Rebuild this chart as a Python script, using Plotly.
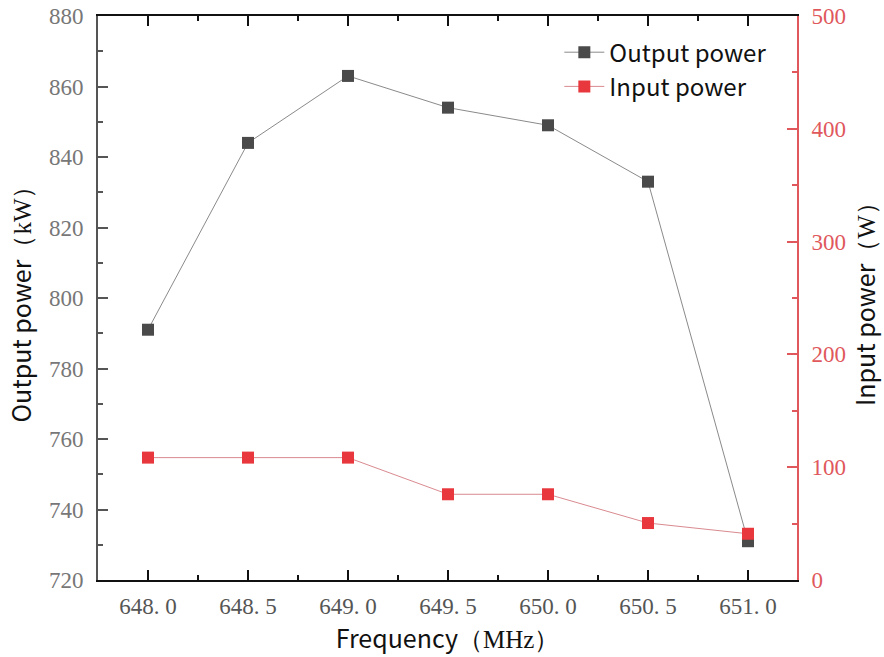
import plotly.graph_objects as go

freq = [648.0, 648.5, 649.0, 649.5, 650.0, 650.5, 651.0]
output_kw = [791, 844, 863, 854, 849, 833, 731]
input_w = [108.5, 108.5, 108.5, 76, 76, 50.5, 41]
x_tickvals = [648.0, 648.5, 649.0, 649.5, 650.0, 650.5, 651.0]
x_ticktext = ["648. 0", "648. 5", "649. 0", "649. 5", "650. 0", "650. 5", "651. 0"]

SANS = "Noto Sans CJK SC, Noto Sans, sans-serif"
SERIF = "Liberation Serif, serif"
RED = "#e8383d"
RED_AX = "#e0585c"

fig = go.Figure()
fig.add_trace(go.Scatter(
    x=freq, y=output_kw, name="Output power", mode="lines+markers",
    line=dict(color="#8a8a8a", width=1),
    marker=dict(symbol="square", size=12, color="#4a4a4a"),
    yaxis="y"))
fig.add_trace(go.Scatter(
    x=freq, y=input_w, name="Input power", mode="lines+markers",
    line=dict(color="#d98a90", width=1),
    marker=dict(symbol="square", size=12, color=RED),
    yaxis="y2"))

fig.update_layout(
    width=884, height=657,
    margin=dict(l=98, r=87, t=16, b=77),
    paper_bgcolor="white", plot_bgcolor="white",
    showlegend=True,
    legend=dict(x=0.66, y=0.975, xanchor="left", yanchor="top",
                font=dict(family=SANS, size=24, color="#111"),
                bgcolor="rgba(0,0,0,0)", tracegroupgap=0, itemwidth=40),
    xaxis=dict(
        range=[647.75, 651.245], tickvals=x_tickvals, ticktext=x_ticktext,
        showgrid=False, zeroline=False, automargin=False,
        showline=True, linecolor="#111", linewidth=2, mirror="ticks",
        ticks="inside", ticklen=10, tickwidth=2, tickcolor="#111",
        minor=dict(ticks="inside", ticklen=5, tickwidth=2, tickcolor="#111", dtick=0.25, tick0=648.0, showgrid=False),
        tickfont=dict(family=SERIF, size=23, color="#555"),
        ticklabelstandoff=4,
        title=dict(text="Frequency<span style=\"font-family:'Liberation Serif'\">（MHz）</span>",
                   font=dict(family=SANS, size=25, color="#111"), standoff=8),
    ),
    yaxis=dict(
        range=[720, 880], dtick=20, tick0=720,
        showgrid=False, zeroline=False, automargin=False,
        showline=True, linecolor="#555", linewidth=2,
        ticks="inside", ticklen=10, tickwidth=2, tickcolor="#555",
        minor=dict(ticks="inside", ticklen=5, tickwidth=2, tickcolor="#555", dtick=10, tick0=720, showgrid=False),
        tickfont=dict(family=SERIF, size=23, color="#777"),
        ticklabelstandoff=8,
        title=dict(text="Output power<span style=\"font-family:'Liberation Serif'\">（kW）</span>",
                   font=dict(family=SANS, size=25, color="#111"), standoff=10),
    ),
    yaxis2=dict(
        range=[0, 500], dtick=100, tick0=0, overlaying="y", side="right",
        showgrid=False, zeroline=False, automargin=False,
        showline=True, linecolor=RED_AX, linewidth=2,
        ticks="inside", ticklen=10, tickwidth=2, tickcolor=RED_AX,
        minor=dict(ticks="inside", ticklen=5, tickwidth=2, tickcolor=RED_AX, dtick=50, tick0=0, showgrid=False),
        tickfont=dict(family=SERIF, size=23, color=RED_AX),
        ticklabelstandoff=8,
        title=dict(text="Input power<span style=\"font-family:'Liberation Serif'\">（W）</span>",
                   font=dict(family=SANS, size=25, color="#111"), standoff=10),
    ),
)

fig.write_html("out.html")
